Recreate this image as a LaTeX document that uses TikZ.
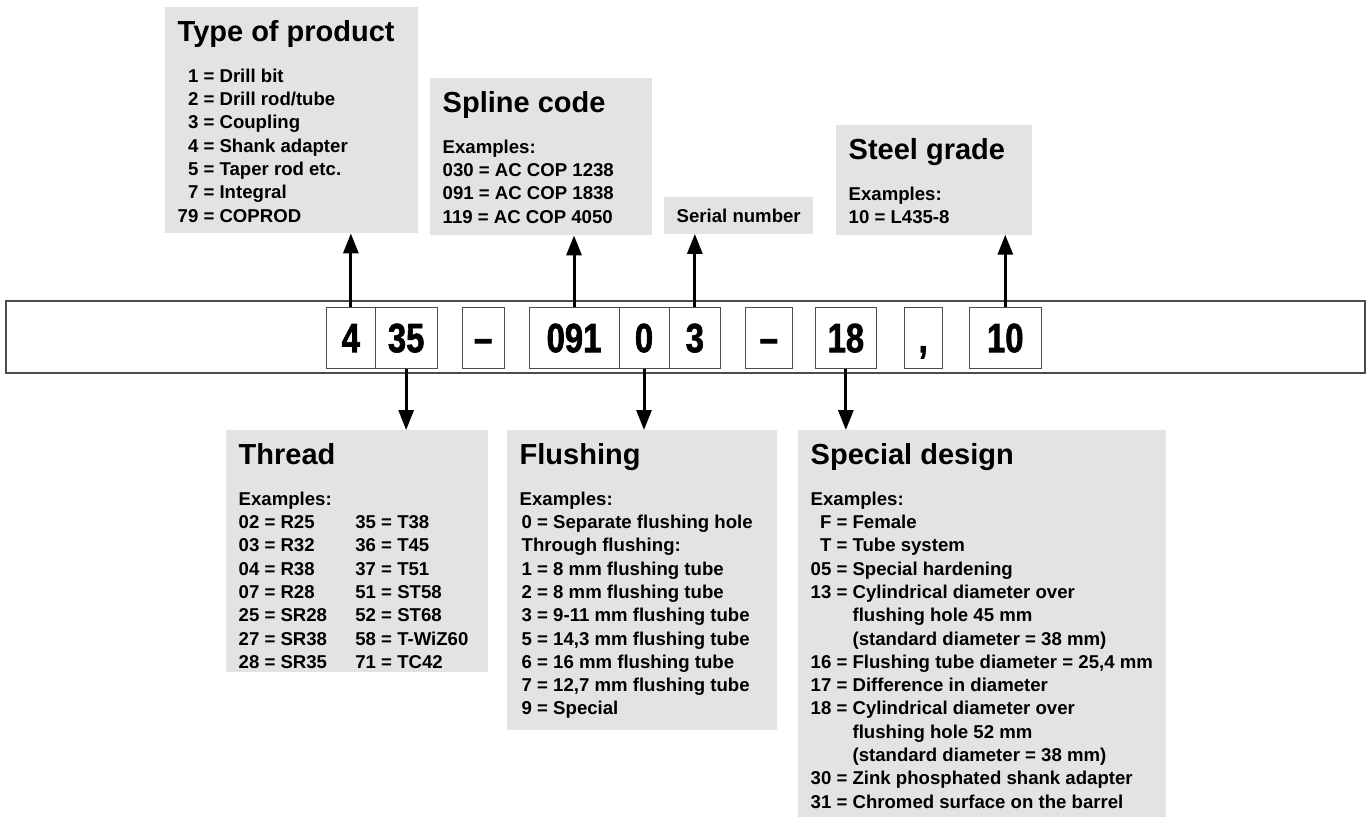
\documentclass[tikz,border=0pt]{standalone}
\usepackage{fontspec}
\setmainfont{Liberation Sans}
\newfontfamily\stripfont[FakeStretch=0.8,FakeBold=1.5]{Liberation Sans}
\usetikzlibrary{arrows.meta}

\definecolor{boxgray}{gray}{0.89}
\definecolor{edgegray}{gray}{0.3}

\newcommand{\titlefont}{\fontsize{29}{34}\selectfont\bfseries}
\newcommand{\bodyfont}{\fontsize{18.6}{23.3}\selectfont\bfseries}
\newlength{\numw}
\newcommand{\eqline}[2]{\makebox[\numw][r]{#1}\ =\ #2\par}
\newcommand{\contline}[1]{\hspace*{\numw}\phantom{\ =\ }#1\par}
\newcommand{\twocol}[2]{\makebox[116.7pt][l]{#1}#2\par}
\newcommand{\infobox}[4]{\parbox[b][#2][t]{#1}{\setlength{\parindent}{0pt}\bodyfont
  {\titlefont\rule{0pt}{34pt}#3\par}\vspace{17.7pt}#4}}

\tikzset{
  info/.style={fill=boxgray, anchor=north west, inner xsep=12.5pt, inner ysep=0pt},
  digit/.style={draw=edgegray, line width=1pt, minimum height=61pt, text height=29.4pt,
    text depth=0pt, inner sep=0pt, font=\stripfont\bfseries\fontsize{41}{41}\selectfont},
  arr/.style={line width=3pt, -{Triangle[width=15pt,length=20pt]}}
}

\begin{document}
\begin{tikzpicture}[x=1pt,y=-1pt]
    \useasboundingbox (0,0) rectangle (1366,817);
    \draw[edgegray, line width=1.3pt] (6,301) rectangle (1365,373);

    % code fields
    \node[digit, minimum width=48.3pt] (d4) at (350.85,337.5) {4};
    \node[digit, minimum width=62.3pt] (d35) at (406.15,337.5) {35};
    \node[digit, minimum width=41.7pt] (dashA) at (483.15,337.5) {\textendash};
    \node[digit, minimum width=90pt] (d091) at (574,337.5) {091};
    \node[digit, minimum width=50pt] (d0) at (644,337.5) {0};
    \node[digit, minimum width=51.7pt] (d3) at (694.85,337.5) {3};
    \node[digit, minimum width=47.7pt] (dashB) at (768.85,337.5) {\textendash};
    \node[digit, minimum width=61.7pt] (d18) at (845.85,337.5) {18};
    \node[digit, minimum width=37.7pt] (comma) at (923.15,337.5) {,};
    \node[digit, minimum width=72pt] (d10) at (1005.3,337.5) {10};

    % upper boxes
    \node[info] (product) at (165,7) {\infobox{228pt}{226pt}{Type of product}{%
        \settowidth{\numw}{79}%
        \eqline{1}{Drill bit}
        \eqline{2}{Drill rod/tube}
        \eqline{3}{Coupling}
        \eqline{4}{Shank adapter}
        \eqline{5}{Taper rod etc.}
        \eqline{7}{Integral}
        \eqline{79}{COPROD}}};
    \node[info] (spline) at (430,78) {\infobox{197pt}{157pt}{Spline code}{%
        Examples:\par
        030 = AC COP 1238\par
        091 = AC COP 1838\par
        119 = AC COP 4050\par}};
    \node[fill=boxgray, anchor=north west, minimum width=149pt, minimum height=36.5pt,
        inner sep=0pt, font=\bodyfont] (serial) at (664,197) {Serial number};
    \node[info] (steel) at (836,125) {\infobox{171pt}{109.3pt}{Steel grade}{%
        Examples:\par
        10 = L435-8\par}};

    % lower boxes
    \node[info] (thread) at (226,430) {\infobox{237pt}{242pt}{Thread}{%
        Examples:\par
        \twocol{02 = R25}{35 = T38}
        \twocol{03 = R32}{36 = T45}
        \twocol{04 = R38}{37 = T51}
        \twocol{07 = R28}{51 = ST58}
        \twocol{25 = SR28}{52 = ST68}
        \twocol{27 = SR38}{58 = T-WiZ60}
        \twocol{28 = SR35}{71 = TC42}}};
    \node[info] (flushing) at (507,430) {\infobox{245pt}{300pt}{Flushing}{%
        Examples:\par
        \hspace*{2pt}0 = Separate flushing hole\par
        \hspace*{2pt}Through flushing:\par
        \hspace*{2pt}1 = 8 mm flushing tube\par
        \hspace*{2pt}2 = 8 mm flushing tube\par
        \hspace*{2pt}3 = 9-11 mm flushing tube\par
        \hspace*{2pt}5 = 14,3 mm flushing tube\par
        \hspace*{2pt}6 = 16 mm flushing tube\par
        \hspace*{2pt}7 = 12,7 mm flushing tube\par
        \hspace*{2pt}9 = Special\par}};
    \node[info] (special) at (798,430) {\infobox{343pt}{387pt}{Special design}{%
        \settowidth{\numw}{05}%
        Examples:\par
        \eqline{F}{Female}
        \eqline{T}{Tube system}
        \eqline{05}{Special hardening}
        \eqline{13}{Cylindrical diameter over}
        \contline{flushing hole 45 mm}
        \contline{(standard diameter = 38 mm)}
        \eqline{16}{Flushing tube diameter = 25,4 mm}
        \eqline{17}{Difference in diameter}
        \eqline{18}{Cylindrical diameter over}
        \contline{flushing hole 52 mm}
        \contline{(standard diameter = 38 mm)}
        \eqline{30}{Zink phosphated shank adapter}
        \eqline{31}{Chromed surface on the barrel}}};

    % connectors
    \draw[arr] (d4.north) -- (d4.north |- product.south);
    \draw[arr] (d091.north) -- (d091.north |- spline.south);
    \draw[arr] (d3.north) -- (d3.north |- serial.south);
    \draw[arr] (d10.north) -- (d10.north |- steel.south);
    \draw[arr] (d35.south) -- (d35.south |- thread.north);
    \draw[arr] (d0.south) -- (d0.south |- flushing.north);
    \draw[arr] (d18.south) -- (d18.south |- special.north);
\end{tikzpicture}
\end{document}
